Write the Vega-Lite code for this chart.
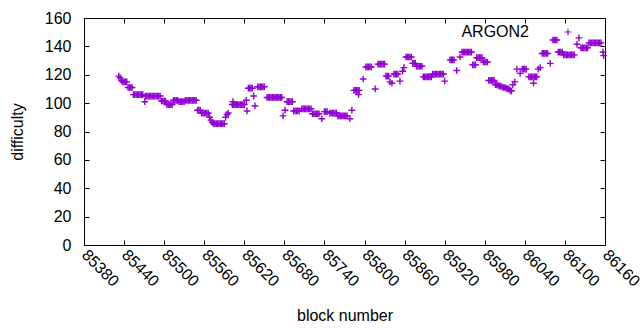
{
"$schema": "https://vega.github.io/schema/vega-lite/v6.json",
"width": 521, "height": 227,
"autosize": "none",
"padding": {"left": 84, "top": 18, "right": 35, "bottom": 85},
"background": "white",
"config": {
  "view": {"stroke": "black", "strokeWidth": 1},
  "font": "Liberation Sans",
  "axis": {"grid": false, "domain": false, "tickColor": "black", "labelColor": "black", "titleColor": "black", "labelFont": "Liberation Sans", "titleFont": "Liberation Sans", "labelFontSize": 16, "titleFontSize": 16, "titleFontWeight": "normal", "tickSize": -5}
},
"data": {"values": [
{"b":85432,"d":119},{"b":85434,"d":118},{"b":85436,"d":116},
{"b":85438,"d":115},{"b":85440,"d":115},{"b":85442,"d":115},{"b":85444,"d":115},
{"b":85446,"d":111},{"b":85448,"d":111},{"b":85450,"d":111},{"b":85452,"d":111},
{"b":85454,"d":106},{"b":85456,"d":106},{"b":85458,"d":106},{"b":85460,"d":106},{"b":85462,"d":106},{"b":85464,"d":106},{"b":85466,"d":106},{"b":85468,"d":106},
{"b":85471,"d":101},
{"b":85472,"d":105},{"b":85474,"d":105},{"b":85476,"d":105},{"b":85478,"d":105},{"b":85480,"d":105},{"b":85482,"d":105},{"b":85484,"d":105},{"b":85486,"d":105},{"b":85488,"d":105},{"b":85490,"d":105},{"b":85492,"d":105},{"b":85494,"d":105},
{"b":85496,"d":101.5},{"b":85498,"d":101.5},{"b":85500,"d":101.5},{"b":85502,"d":101.5},
{"b":85504,"d":99},{"b":85506,"d":99},{"b":85508,"d":99},{"b":85510,"d":99},{"b":85512,"d":99},
{"b":85514,"d":102},{"b":85516,"d":102},{"b":85518,"d":102},{"b":85520,"d":102},
{"b":85522,"d":101},{"b":85524,"d":101},{"b":85526,"d":101},{"b":85528,"d":101},{"b":85530,"d":101},
{"b":85532,"d":102},{"b":85534,"d":102},{"b":85536,"d":102},{"b":85538,"d":102},{"b":85540,"d":102},{"b":85542,"d":102},{"b":85544,"d":102},{"b":85546,"d":102},{"b":85548,"d":102},
{"b":85550,"d":95},{"b":85552,"d":95},{"b":85554,"d":95},
{"b":85556,"d":93},{"b":85558,"d":93},{"b":85560,"d":93},{"b":85562,"d":93},{"b":85564,"d":93},{"b":85566,"d":93},
{"b":85568,"d":90},{"b":85570,"d":88},{"b":85572,"d":86.5},
{"b":85574,"d":85.5},{"b":85576,"d":85.5},{"b":85578,"d":85.5},{"b":85580,"d":85.5},{"b":85582,"d":85.5},{"b":85584,"d":85.5},{"b":85586,"d":85.5},{"b":85588,"d":85.5},{"b":85590,"d":85.5},
{"b":85592,"d":90},{"b":85594,"d":92},{"b":85596,"d":93},
{"b":85602,"d":99},{"b":85603,"d":101},{"b":85604,"d":99},{"b":85606,"d":99},{"b":85608,"d":99},{"b":85610,"d":99},{"b":85612,"d":99},{"b":85614,"d":99},{"b":85616,"d":99},{"b":85618,"d":99},{"b":85620,"d":99},
{"b":85623,"d":102},{"b":85624,"d":94.5},
{"b":85626,"d":110.5},{"b":85628,"d":110.5},{"b":85630,"d":110.5},{"b":85632,"d":110.5},
{"b":85634,"d":105},{"b":85636,"d":98},
{"b":85640,"d":111.5},{"b":85642,"d":111.5},{"b":85644,"d":111.5},{"b":85646,"d":111.5},{"b":85648,"d":111.5},{"b":85650,"d":111.5},
{"b":85654,"d":104},{"b":85656,"d":104},{"b":85658,"d":104},{"b":85660,"d":104},{"b":85662,"d":104},{"b":85664,"d":104},{"b":85666,"d":104},{"b":85668,"d":104},{"b":85670,"d":104},{"b":85672,"d":104},{"b":85674,"d":104},{"b":85676,"d":104},
{"b":85678,"d":91},{"b":85681,"d":95},
{"b":85684,"d":101},{"b":85686,"d":101},{"b":85688,"d":101},{"b":85690,"d":101},{"b":85692,"d":101},
{"b":85694,"d":94.5},{"b":85696,"d":94.5},{"b":85698,"d":94.5},{"b":85700,"d":94.5},{"b":85702,"d":94.5},
{"b":85706,"d":96},{"b":85708,"d":96},{"b":85710,"d":96},{"b":85712,"d":96},{"b":85714,"d":96},{"b":85716,"d":96},{"b":85718,"d":96},{"b":85720,"d":96},
{"b":85722,"d":92.5},{"b":85724,"d":92.5},{"b":85726,"d":92.5},{"b":85728,"d":92.5},{"b":85730,"d":92.5},{"b":85732,"d":92.5},
{"b":85736,"d":89},
{"b":85740,"d":94},{"b":85742,"d":94},{"b":85744,"d":94},
{"b":85748,"d":93},{"b":85750,"d":93},{"b":85752,"d":93},{"b":85754,"d":93},{"b":85756,"d":93},{"b":85758,"d":93},
{"b":85760,"d":91},{"b":85762,"d":91},{"b":85764,"d":91},{"b":85766,"d":91},{"b":85768,"d":91},{"b":85770,"d":91},{"b":85772,"d":91},{"b":85774,"d":91},
{"b":85778,"d":89},{"b":85781,"d":95},
{"b":85784,"d":109},{"b":85786,"d":109},{"b":85788,"d":109},{"b":85790,"d":109},{"b":85791,"d":106},{"b":85792,"d":109},
{"b":85798,"d":117},
{"b":85802,"d":125.5},{"b":85804,"d":125.5},{"b":85806,"d":125.5},{"b":85808,"d":125.5},{"b":85810,"d":125.5},
{"b":85816,"d":110},
{"b":85820,"d":127.5},{"b":85822,"d":127.5},{"b":85824,"d":127.5},{"b":85826,"d":127.5},{"b":85828,"d":127.5},{"b":85830,"d":127.5},
{"b":85832,"d":119},{"b":85834,"d":119},{"b":85836,"d":119},
{"b":85838,"d":115},{"b":85841,"d":114},
{"b":85844,"d":120.5},{"b":85846,"d":120.5},{"b":85848,"d":120.5},{"b":85850,"d":120.5},
{"b":85853,"d":115.5},{"b":85857,"d":122.5},{"b":85859,"d":125},
{"b":85862,"d":132.5},{"b":85864,"d":132.5},{"b":85866,"d":132.5},{"b":85868,"d":132.5},{"b":85870,"d":132.5},
{"b":85872,"d":128},{"b":85874,"d":128},{"b":85876,"d":128},
{"b":85878,"d":126},{"b":85880,"d":126},{"b":85882,"d":126},{"b":85884,"d":126},{"b":85886,"d":126},
{"b":85888,"d":118.5},{"b":85890,"d":118.5},{"b":85892,"d":118.5},{"b":85894,"d":118.5},{"b":85896,"d":118.5},{"b":85898,"d":118.5},{"b":85900,"d":118.5},
{"b":85902,"d":120.5},{"b":85904,"d":120.5},{"b":85906,"d":120.5},{"b":85908,"d":120.5},{"b":85910,"d":120.5},{"b":85912,"d":120.5},{"b":85914,"d":120.5},{"b":85916,"d":120.5},{"b":85918,"d":120.5},
{"b":85920,"d":115.5},
{"b":85928,"d":130.5},{"b":85930,"d":130.5},{"b":85932,"d":130.5},{"b":85934,"d":130.5},
{"b":85938,"d":123},{"b":85943,"d":132.5},
{"b":85946,"d":136},{"b":85948,"d":136},{"b":85950,"d":136},{"b":85952,"d":136},{"b":85954,"d":136},{"b":85956,"d":136},{"b":85958,"d":136},{"b":85960,"d":136},
{"b":85962,"d":127},{"b":85964,"d":127},{"b":85966,"d":127},
{"b":85968,"d":132},{"b":85970,"d":132},{"b":85972,"d":132},{"b":85974,"d":132},{"b":85976,"d":132},
{"b":85978,"d":129},{"b":85980,"d":129},{"b":85982,"d":129},{"b":85984,"d":129},
{"b":85986,"d":116},{"b":85988,"d":116},{"b":85990,"d":116},{"b":85992,"d":116},{"b":85994,"d":116},
{"b":85996,"d":113},{"b":85998,"d":113},{"b":86000,"d":112.5},{"b":86002,"d":112},{"b":86004,"d":112},{"b":86006,"d":111.5},{"b":86008,"d":111},{"b":86010,"d":111},{"b":86012,"d":110.5},{"b":86014,"d":110},{"b":86016,"d":110},{"b":86018,"d":109},{"b":86020,"d":108.5},
{"b":86022,"d":113},{"b":86025,"d":115},
{"b":86028,"d":124},{"b":86033,"d":121},
{"b":86036,"d":124},{"b":86038,"d":124},{"b":86040,"d":124},{"b":86042,"d":124},
{"b":86046,"d":118.5},{"b":86048,"d":118.5},{"b":86050,"d":118.5},{"b":86052,"d":118.5},{"b":86053,"d":114},{"b":86054,"d":118.5},{"b":86056,"d":118.5},{"b":86058,"d":118.5},
{"b":86060,"d":124},{"b":86063,"d":125},
{"b":86066,"d":135},{"b":86068,"d":135},{"b":86070,"d":135},{"b":86072,"d":135},{"b":86074,"d":135},
{"b":86078,"d":128},
{"b":86082,"d":144.5},{"b":86084,"d":144.5},{"b":86086,"d":144.5},{"b":86088,"d":144.5},
{"b":86090,"d":136},{"b":86092,"d":136},{"b":86094,"d":136},{"b":86096,"d":136},
{"b":86098,"d":134},{"b":86100,"d":134},{"b":86102,"d":134},{"b":86104,"d":134},{"b":86106,"d":134},{"b":86108,"d":134},{"b":86110,"d":134},{"b":86112,"d":134},{"b":86114,"d":134},
{"b":86118,"d":141.5},{"b":86121,"d":146},
{"b":86124,"d":139},{"b":86126,"d":139},{"b":86128,"d":139},{"b":86130,"d":139},{"b":86132,"d":139},{"b":86134,"d":139},
{"b":86136,"d":142.5},{"b":86138,"d":142.5},{"b":86140,"d":142.5},{"b":86142,"d":142.5},{"b":86144,"d":142.5},{"b":86146,"d":142.5},{"b":86148,"d":142.5},{"b":86150,"d":142.5},{"b":86152,"d":142.5},{"b":86154,"d":142.5},
{"b":86157,"d":136},{"b":86158,"d":133.5}
]},
"layer": [
 {
  "mark": {"type": "point", "shape": "M-1,0L1,0M0,-1L0,1", "filled": false, "size": 45, "strokeWidth": 1.4, "opacity": 1},
  "encoding": {
   "x": {"field": "b", "type": "quantitative", "scale": {"domain": [85380, 86160], "nice": false, "zero": false},
         "axis": {"orient": "bottom", "values": [85380,85440,85500,85560,85620,85680,85740,85800,85860,85920,85980,86040,86100,86160], "format": "d", "labelAngle": 45, "labelAlign": "left", "labelBaseline": "middle", "labelPadding": 12, "labelOverlap": false, "labelFlush": false, "title": "block number", "titleX": 260.5, "titleY": 70, "titleBaseline": "middle", "titleAlign": "center", "titleAnchor": null}},
   "y": {"field": "d", "type": "quantitative", "scale": {"domain": [0, 160], "nice": false},
         "axis": {"orient": "left", "values": [0,20,40,60,80,100,120,140,160], "format": "d", "labelPadding": 18, "title": "difficulty", "titleX": -67, "titleY": 113.5, "titleAngle": -90, "titleBaseline": "middle", "titleAlign": "center", "titleAnchor": null}},
   "color": {"datum": "ARGON2", "type": "nominal", "scale": {"range": ["#9400d3"]},
             "legend": {"orient": "none", "legendX": 476, "legendY": 6, "title": null, "padding": 0, "labelFontSize": 16, "labelFont": "Liberation Sans", "labelColor": "black", "labelAlign": "right", "labelOffset": -47, "symbolType": "M-1,0L1,0M0,-1L0,1", "symbolSize": 45, "symbolStrokeWidth": 1.2, "symbolFillColor": "transparent"}}
  }
 },
 {
  "mark": {"type": "point", "opacity": 0},
  "encoding": {
   "x": {"field": "b", "type": "quantitative", "axis": {"orient": "top", "values": [85380,85440,85500,85560,85620,85680,85740,85800,85860,85920,85980,86040,86100,86160], "labels": false, "title": null}},
   "y": {"field": "d", "type": "quantitative", "axis": {"orient": "right", "values": [0,20,40,60,80,100,120,140,160], "labels": false, "title": null}}
  }
 }
],
"resolve": {"axis": {"x": "independent", "y": "independent"}}
}
